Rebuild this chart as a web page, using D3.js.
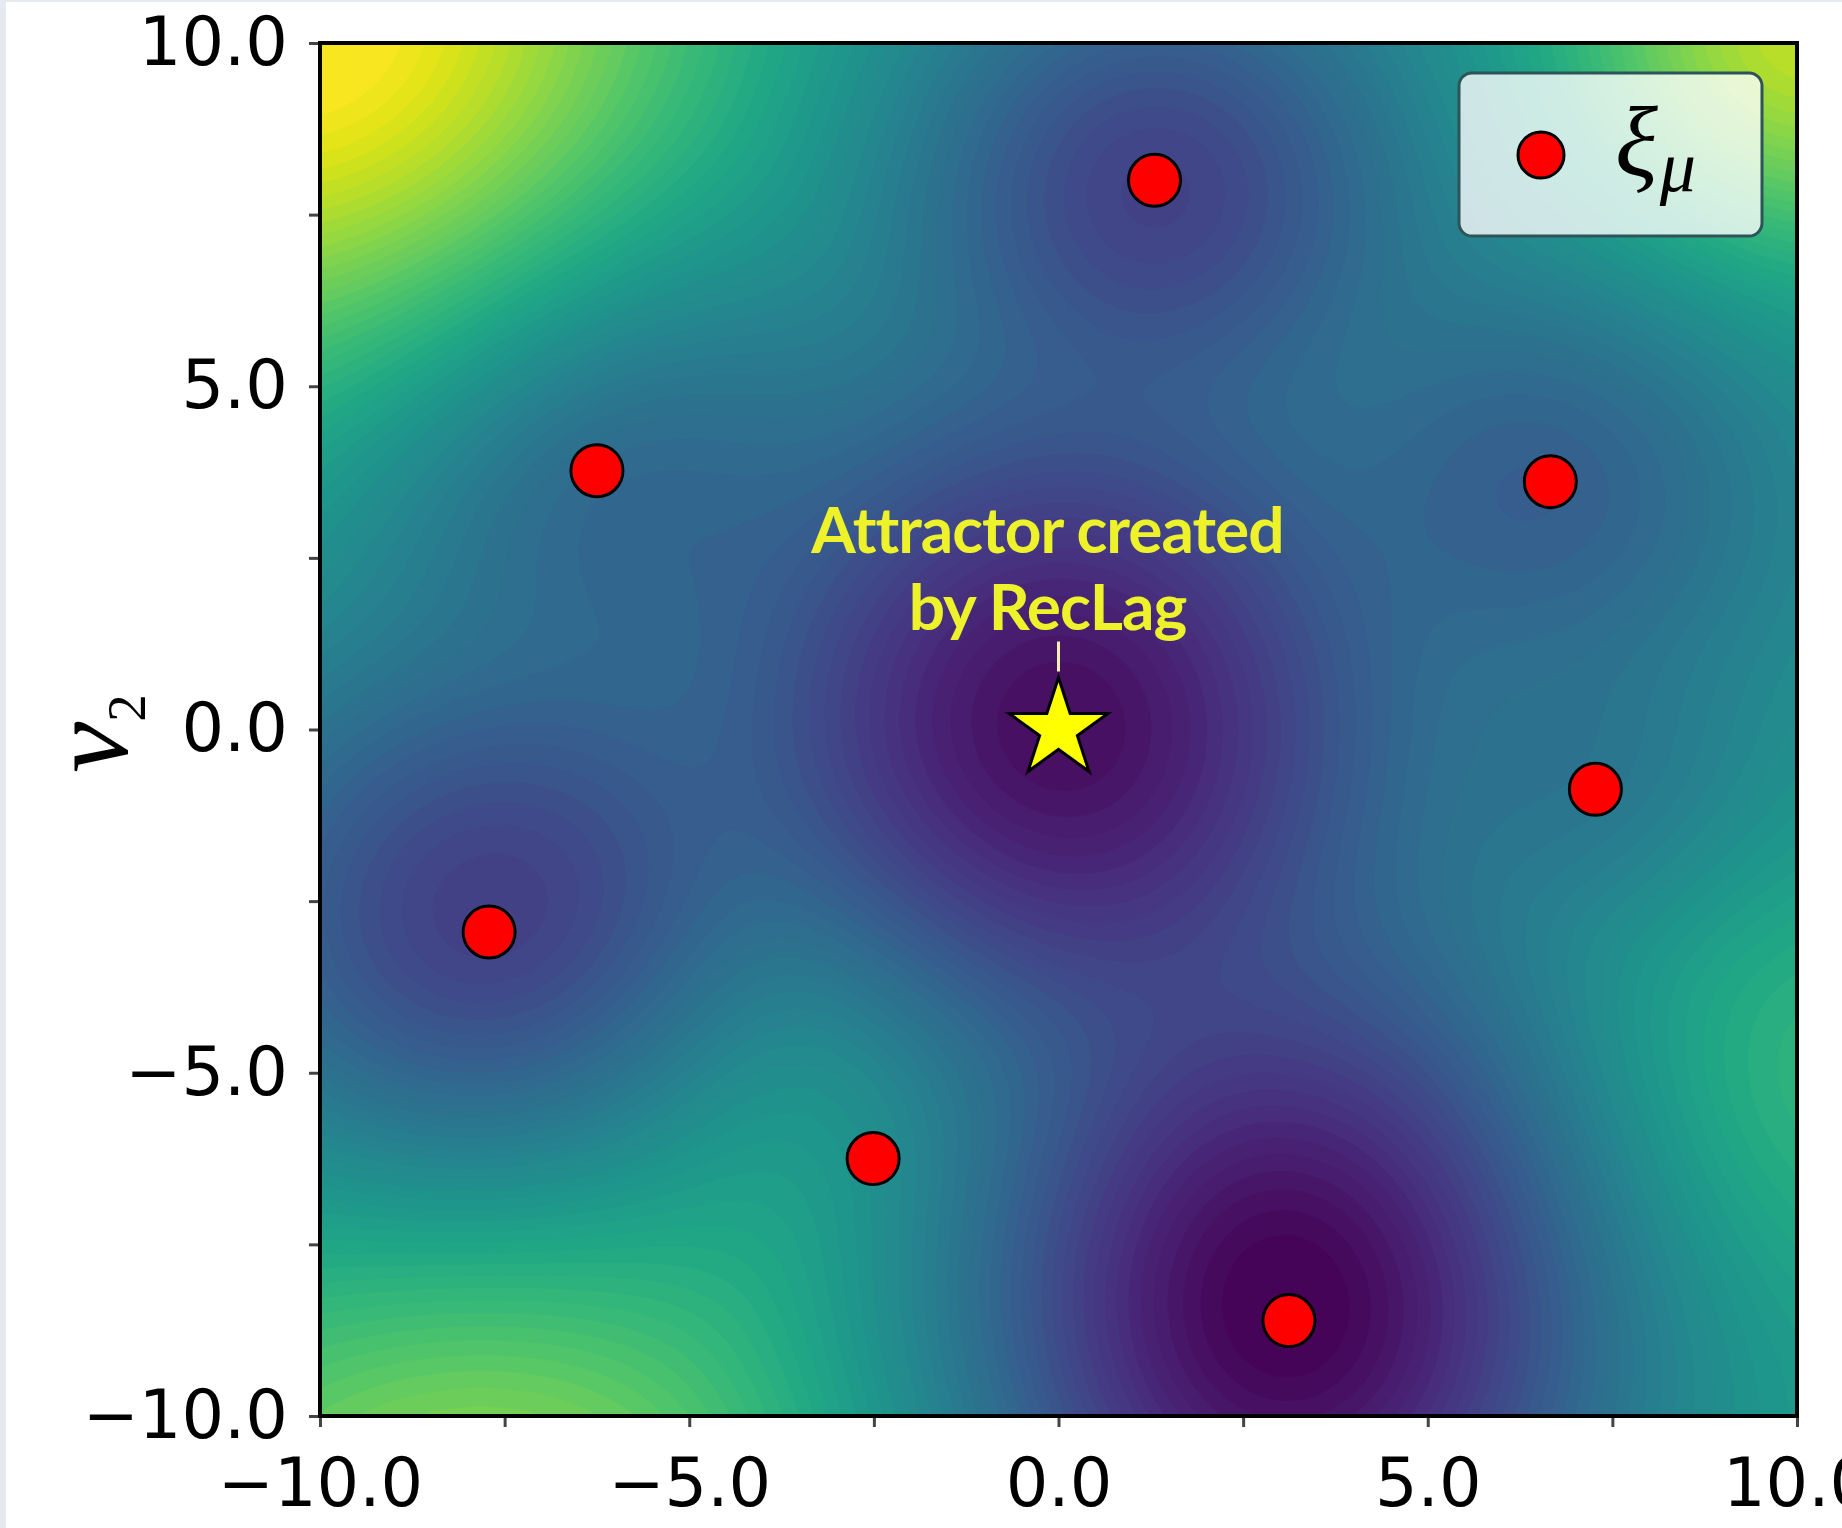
<!DOCTYPE html>
<html>
<head>
<meta charset="utf-8">
<script src="https://cdn.jsdelivr.net/npm/d3@7"></script>
<style>
html, body { margin: 0; padding: 0; background: #fff; }
svg { display: block; }
</style>
</head>
<body>
<svg id="chart" width="1842" height="1528"></svg>
<script>
// stored patterns xi_mu (v1, v2)
var patternX = [1.3, -6.25, 6.66, 7.27, -7.71, -2.51, 3.12];
var patternY = [8.0, 3.77, 3.61, -0.87, -2.95, -6.25, -8.61];
// how deep / wide the landscape dips around each pattern (colour units, v units)
var patternDepth = [0.29, 0.19, 0.18, 0.1, 0.32, 0.02, 0.5];
var patternWidthX = [2.4, 2.5, 2.3, 1.8, 2.8, 1.2, 3.0];
var patternWidthY = [2.4, 2.5, 2.3, 1.8, 2.8, 1.2, 3.5];

// attractor created by RecLag
var attractorX = [0.0];
var attractorY = [0.0];
var attractorDepth = [0.42];
var attractorWidthX = [3.0];
var attractorWidthY = [3.3];

// high ground: corners, right edge, ridge left of the lower basin
var hillX = [-10, 10, -7.5, 10, -3.5];
var hillY = [10, 10, -11.5, -5, -5];
var hillHeight = [0.47, 0.35, 0.3, 0.15, 0.1];
var hillWidth = [3.6, 2.2, 3.5, 2.5, 2.2];
var baseLevel = 0.45;
var bowl = 0.05;

var tickValues = [-10, -7.5, -5, -2.5, 0, 2.5, 5, 7.5, 10];
var tickLabels = ["\u221210.0", "", "\u22125.0", "", "0.0", "", "5.0", "", "10.0"];

var svg = d3.select("#chart");
var margin = {top: 43, right: 45, bottom: 112, left: 320};
var width = +svg.attr("width") - margin.left - margin.right;
var height = +svg.attr("height") - margin.top - margin.bottom;

// thin grey frame on the left / top of the figure
svg.append("rect").attr("x", 0).attr("y", 0).attr("width", 6).attr("height", 1528).attr("fill", "#e6eaef");
svg.append("rect").attr("x", 0).attr("y", 0).attr("width", 1842).attr("height", 2).attr("fill", "#e6eaef");

var x = d3.scaleLinear().domain([-10, 10]).range([margin.left, margin.left + width]);
var y = d3.scaleLinear().domain([-10, 10]).range([margin.top + height, margin.top]);

// all dips: patterns then attractor
var dipX = patternX.concat(attractorX);
var dipY = patternY.concat(attractorY);
var dipDepth = patternDepth.concat(attractorDepth);
var dipWX = patternWidthX.concat(attractorWidthX);
var dipWY = patternWidthY.concat(attractorWidthY);

function landscape(vx, vy) {
    var v = baseLevel + bowl * (vx * vx + vy * vy) / 100;
    for (var h = 0; h < hillX.length; h++) {
        var dh = (vx - hillX[h]) * (vx - hillX[h]) + (vy - hillY[h]) * (vy - hillY[h]);
        v += hillHeight[h] * Math.exp(-dh / (2 * hillWidth[h] * hillWidth[h]));
    }
    var s = 0;
    for (var k = 0; k < dipX.length; k++) {
        var ex = (vx - dipX[k]) * (vx - dipX[k]) / (2 * dipWX[k] * dipWX[k]);
        var ey = (vy - dipY[k]) * (vy - dipY[k]) / (2 * dipWY[k] * dipWY[k]);
        var a = dipDepth[k] * Math.exp(-ex - ey);
        s += a * a;
    }
    v -= Math.sqrt(s);
    return Math.max(0, Math.min(1, v));
}

var n = 240;
var gx = d3.scaleLinear().domain([0, n]).range([-10, 10]);
var gy = d3.scaleLinear().domain([0, n]).range([10, -10]);
var values = new Array(n * n);
for (var j = 0; j < n; j++) {
    for (var i = 0; i < n; i++) {
        values[j * n + i] = landscape(gx(i + 0.5), gy(j + 0.5));
    }
}

var levels = 60;
var thresholds = d3.range(0, 1, 1 / levels);
var contours = d3.contours().size([n, n]).thresholds(thresholds)(values);
var color = d3.scaleSequential(d3.interpolateViridis).domain([0, 1]);

var proj = d3.geoTransform({
    point: function (px, py) {
        this.stream.point(x(gx(px)), y(gy(py)));
    }
});
var path = d3.geoPath(proj);

svg.append("clipPath").attr("id", "plotclip")
    .append("rect")
    .attr("x", margin.left).attr("y", margin.top)
    .attr("width", width).attr("height", height);

var field = svg.append("g").attr("clip-path", "url(#plotclip)");
field.append("rect")
    .attr("x", margin.left).attr("y", margin.top)
    .attr("width", width).attr("height", height)
    .attr("fill", color(0));
field.selectAll("path.band")
    .data(contours)
    .enter().append("path")
    .attr("class", "band")
    .attr("d", path)
    .attr("fill", function (d) { return color(d.value + 0.5 / levels); })
    .attr("stroke", function (d) { return color(d.value + 0.5 / levels); })
    .attr("stroke-width", 0.6);

// patterns
svg.append("g").selectAll("circle.xi")
    .data(patternX)
    .enter().append("circle")
    .attr("class", "xi")
    .attr("cx", function (d) { return x(d); })
    .attr("cy", function (d, i) { return y(patternY[i]); })
    .attr("r", 26)
    .attr("fill", "#ff0000")
    .attr("stroke", "#000")
    .attr("stroke-width", 3);

// annotation
var ann = svg.append("g");
ann.append("line")
    .attr("x1", x(attractorX[0])).attr("x2", x(attractorX[0]))
    .attr("y1", y(attractorY[0]) - 88).attr("y2", y(attractorY[0]) - 58)
    .attr("stroke", "#f3efb0").attr("stroke-width", 3);
var annText = ann.append("text")
    .attr("x", x(-0.15))
    .attr("y", y(2.57))
    .attr("text-anchor", "middle")
    .style("font-family", "Lato, 'Open Sans', sans-serif")
    .style("font-weight", "bold")
    .style("font-size", "64px")
    .style("letter-spacing", "-1px")
    .attr("fill", "#eef22a");
annText.append("tspan").attr("x", x(-0.15)).text("Attractor created");
annText.append("tspan").attr("x", x(-0.15)).attr("dy", 77).text("by RecLag");

// star
svg.append("path")
    .attr("d", d3.symbol().type(d3.symbolStar).size(3035))
    .attr("transform", "translate(" + x(attractorX[0]) + "," + y(attractorY[0]) + ")")
    .attr("fill", "#ffff00")
    .attr("stroke", "#000")
    .attr("stroke-width", 3)
    .attr("stroke-linejoin", "miter");

// axes
var xAxis = d3.axisBottom(x).tickValues(tickValues)
    .tickFormat(function (d, i) { return tickLabels[i]; })
    .tickSize(11).tickPadding(31);
var yAxis = d3.axisLeft(y).tickValues(tickValues)
    .tickFormat(function (d, i) { return tickLabels[i]; })
    .tickSize(11).tickPadding(21);

var gX = svg.append("g").attr("transform", "translate(0," + (margin.top + height) + ")").call(xAxis);
var gY = svg.append("g").attr("transform", "translate(" + margin.left + ",0)").call(yAxis);
[gX, gY].forEach(function (g) {
    g.select(".domain").remove();
    g.selectAll(".tick line").attr("stroke", "#444").attr("stroke-width", 3);
    g.selectAll(".tick text")
        .attr("fill", "#000")
        .style("font-family", "'DejaVu Sans', sans-serif")
        .style("font-size", "67px");
});

// frame
svg.append("rect")
    .attr("x", margin.left).attr("y", margin.top)
    .attr("width", width).attr("height", height)
    .attr("fill", "none")
    .attr("stroke", "#000")
    .attr("stroke-width", 4);

// y axis label v_2
var yl = svg.append("text")
    .attr("transform", "translate(127," + (margin.top + height / 2 + 4) + ") rotate(-90)")
    .attr("text-anchor", "middle")
    .style("font-family", "'Liberation Serif', serif")
    .attr("fill", "#000");
yl.append("tspan").style("font-size", "115px").style("font-style", "italic").text("v");
yl.append("tspan").style("font-size", "55px").attr("dy", 18).text("2");

// legend
var lg = svg.append("g").attr("transform", "translate(" + (margin.left + width - 338) + "," + (margin.top + 30) + ")");
lg.append("rect")
    .attr("width", 303).attr("height", 163)
    .attr("rx", 13).attr("ry", 13)
    .attr("fill", "#fff").attr("fill-opacity", 0.78)
    .attr("stroke", "#2d5458").attr("stroke-width", 3);
lg.append("circle")
    .attr("cx", 82).attr("cy", 82).attr("r", 23)
    .attr("fill", "#ff0000").attr("stroke", "#000").attr("stroke-width", 3);
var lt = lg.append("text")
    .attr("x", 156).attr("y", 102)
    .style("font-family", "'Liberation Serif', serif")
    .style("font-style", "italic")
    .attr("fill", "#000");
lt.append("tspan").style("font-size", "100px").text("\u03be");
lt.append("tspan").style("font-size", "72px").attr("dy", 16).attr("dx", 2).text("\u03bc");
</script>
</body>
</html>
